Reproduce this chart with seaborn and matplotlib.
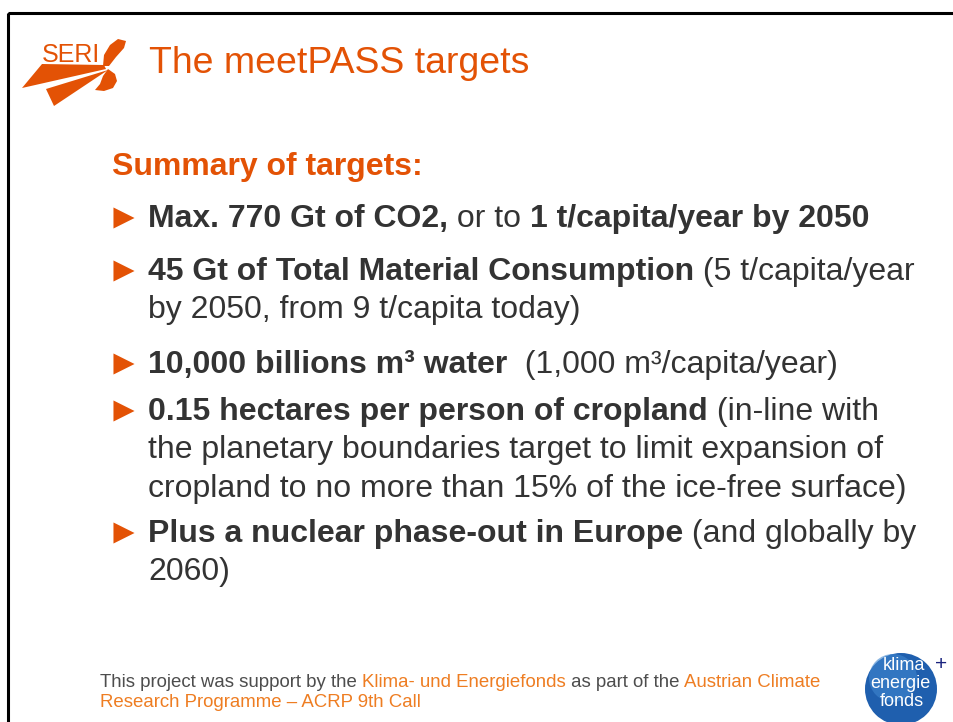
import matplotlib
matplotlib.use("Agg")
import matplotlib.pyplot as plt
import seaborn as sns
from matplotlib.patches import Polygon, Circle, Rectangle

sns.set_theme(style="white")
plt.rcParams['font.family'] = ['Liberation Sans', 'DejaVu Sans']

ORANGE = "#E35205"
TEXT = "#333333"
FOOT_GRAY = "#4d4d4d"
FOOT_ORANGE = "#EE7D22"

title = "The meetPASS targets"
heading = "Summary of targets:"

# each line: list of (text, weight)
lines = [
    [("Max. 770 Gt of CO2,", "bold"), (" or to ", "normal"), ("1 t/capita/year by 2050", "bold")],
    [("45 Gt of Total Material Consumption", "bold"), (" (5 t/capita/year", "normal")],
    [("by 2050, from 9 t/capita today)", "normal")],
    [("10,000 billions m³ water", "bold"), ("  (1,000 m³/capita/year)", "normal")],
    [("0.15 hectares per person of cropland", "bold"), (" (in-line with", "normal")],
    [("the planetary boundaries target to limit expansion of", "normal")],
    [("cropland to no more than 15% of the ice-free surface)", "normal")],
    [("Plus a nuclear phase-out in Europe", "bold"), (" (and globally by", "normal")],
    [("2060)", "normal")],
]
line_base = [227, 280, 318, 373, 420, 458, 497, 542, 580]
bullet_line = [True, True, False, True, True, False, False, True, False]

footer = [
    [("This project was support by the ", FOOT_GRAY), ("Klima- und Energiefonds", FOOT_ORANGE),
     (" as part of the ", FOOT_GRAY), ("Austrian Climate", FOOT_ORANGE)],
    [("Research Programme – ACRP 9th Call", FOOT_ORANGE)],
]
footer_base = [687, 707]

fig = plt.figure(figsize=(9.54, 7.22), dpi=100)
fig.patch.set_facecolor("white")
ax = fig.add_axes([0, 0, 1, 1])
ax.set_xlim(0, 954)
ax.set_ylim(722, 0)
ax.axis("off")
renderer = fig.canvas.get_renderer()

# slide frame
ax.add_patch(Rectangle((8, 13), 1000, 800, fill=False, edgecolor="black", lw=2.2))

# SERI logo
ax.add_patch(Polygon([(22, 88), (42, 64), (104, 65), (106, 69)], color=ORANGE, lw=0))
ax.add_patch(Polygon([(46, 89), (54, 106), (108, 70)], color=ORANGE, lw=0))
ax.add_patch(Polygon([(103, 66), (104, 55), (110, 45), (118, 39), (126, 41), (124, 48),
                      (116, 57), (109, 66)], color=ORANGE, lw=0))
ax.add_patch(Polygon([(108, 69), (115, 74), (117, 81), (113, 88), (104, 91), (95, 90),
                      (100, 84), (103, 76)], color=ORANGE, lw=0))
ax.text(71, 62, "SERI", fontsize=18, color=ORANGE, ha="center", va="baseline")

# title and heading
ax.text(149, 73, title, fontsize=26.9, color=ORANGE, va="baseline")
ax.text(112, 175, heading, fontsize=23, color=ORANGE, fontweight="bold", va="baseline")

# bullets
bx = [124] * sum(bullet_line)
by = [b - 9 for b, f in zip(line_base, bullet_line) if f]
sns.scatterplot(x=bx, y=by, marker=">", s=230, color=ORANGE, edgecolor="none", ax=ax, legend=False)

def draw_runs(x, y, runs, size, color=None):
    for s, w in runs:
        c, weight = color, w
        if color is None:
            c, weight = w, "normal"
        t = ax.text(x, y, s, fontsize=size, fontweight=weight, color=c, va="baseline", ha="left")
        x += t.get_window_extent(renderer).width

for base, runs in zip(line_base, lines):
    draw_runs(148, base, runs, 23, TEXT)

for base, runs in zip(footer_base, footer):
    draw_runs(100, base, runs, 13.4)

# klima energie fonds logo
ax.add_patch(Circle((901, 689), 36, color="#1f5fae", lw=0))
ax.add_patch(Circle((893, 678), 24, color="#3f86cf", lw=0, alpha=0.6))
ax.text(904, 670, "klima", fontsize=13, color="white", ha="center", va="baseline")
ax.text(900, 688, "energie", fontsize=13, color="white", ha="center", va="baseline")
ax.text(902, 706, "fonds", fontsize=13, color="white", ha="center", va="baseline")
ax.text(941, 670, "+", fontsize=15, color="#1a237e", ha="center", va="baseline")

fig.savefig("out.png", dpi=100)
